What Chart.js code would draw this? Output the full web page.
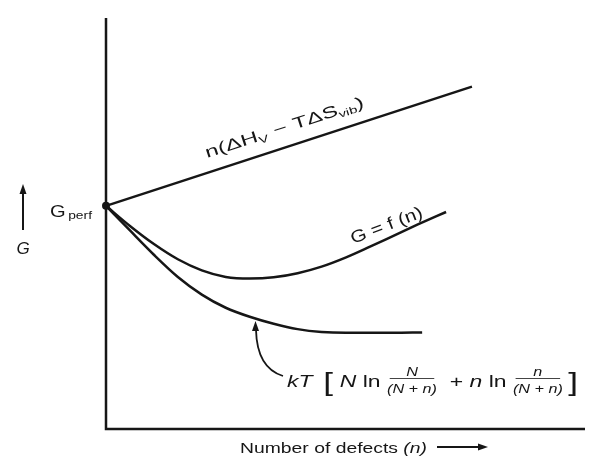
<!DOCTYPE html>
<html>
<head>
<meta charset="utf-8">
<script src="https://cdn.jsdelivr.net/npm/chart.js@4.4.1/dist/chart.umd.min.js"></script>
<style>
  html, body { margin: 0; padding: 0; background: #fff; }
  #wrap { width: 589px; height: 464px; }
</style>
</head>
<body>
<div id="wrap"><canvas id="freeEnergy"></canvas></div>
<script>
const ink = "#161616";

// enthalpy / vibrational entropy term, straight line from G_perf
const nLinear = [0, 76.4];
const gLinear = [54.3, 83.3];

// total free energy G = f(n)
const nTotal = [0, 5, 10, 15, 20, 25, 30, 35, 40, 45, 50, 55, 60, 65, 71];
const gTotal = [54.3, 49.4, 45.0, 41.3, 38.6, 37.0, 36.6, 36.9, 37.9, 39.5, 41.7, 44.3, 47.0, 49.7, 52.8];

// configurational entropy term kT[...]
const nMixing = [0, 5, 10, 15, 20, 25, 30, 35, 40, 45, 50, 55, 60, 66];
const gMixing = [54.3, 48.3, 42.4, 37.0, 32.7, 29.5, 27.3, 25.6, 24.3, 23.6, 23.4, 23.4, 23.4, 23.5];

const toPoints = (xs, ys) => xs.map((x, i) => ({ x: x, y: ys[i] }));

function font(size, italic) {
  return (italic ? "italic " : "") + size + "px 'Liberation Sans', Arial, sans-serif";
}

function itemWidth(ctx, it) {
  if (it.gap) return it.gap;
  if (it.num) {
    ctx.font = font(it.size, true);
    return Math.max(ctx.measureText(it.num).width, ctx.measureText(it.den).width);
  }
  ctx.font = font(it.size, it.italic);
  return ctx.measureText(it.text).width;
}

// draws a run of text pieces from (x, y) along the baseline, squeezed to width
function drawRun(ctx, items, x, y, width, angle) {
  const natural = items.reduce((s, it) => s + itemWidth(ctx, it), 0);
  ctx.save();
  ctx.translate(x, y);
  if (angle) ctx.rotate(angle * Math.PI / 180);
  if (width) ctx.scale(width / natural, 1);
  ctx.fillStyle = ink;
  ctx.textBaseline = "alphabetic";
  let cx = 0;
  items.forEach(it => {
    const w = itemWidth(ctx, it);
    if (it.num) {
      ctx.font = font(it.size, true);
      ctx.textAlign = "center";
      ctx.fillText(it.num, cx + w / 2, -11);
      ctx.fillText(it.den, cx + w / 2, 6);
      ctx.fillRect(cx + 2, -9, w - 4, 0.8);
      ctx.textAlign = "left";
    } else if (it.text) {
      ctx.font = font(it.size, it.italic);
      ctx.fillText(it.text, cx, it.dy || 0);
    }
    cx += w;
  });
  ctx.restore();
}

function arrowHead(ctx, x, y, dir) {
  ctx.save();
  ctx.translate(x, y);
  ctx.rotate(dir);
  ctx.beginPath();
  ctx.moveTo(0, 0);
  ctx.lineTo(-10, -3.5);
  ctx.lineTo(-10, 3.5);
  ctx.closePath();
  ctx.fill();
  ctx.restore();
}

const sketchLabels = {
  id: "sketchLabels",
  afterDraw(chart) {
    const ctx = chart.ctx;
    const a = chart.chartArea;
    ctx.save();
    ctx.strokeStyle = ink;
    ctx.fillStyle = ink;
    ctx.lineCap = "butt";

    // axes
    ctx.lineWidth = 2.5;
    ctx.beginPath();
    ctx.moveTo(a.left, a.top);
    ctx.lineTo(a.left, a.bottom);
    ctx.lineTo(a.right, a.bottom);
    ctx.stroke();

    // G with upward arrow
    ctx.lineWidth = 2;
    ctx.beginPath();
    ctx.moveTo(23, 230);
    ctx.lineTo(23, 192);
    ctx.stroke();
    arrowHead(ctx, 23, 184, -Math.PI / 2);
    ctx.font = font(17, true);
    ctx.textAlign = "center";
    ctx.fillText("G", 23, 254);
    ctx.textAlign = "left";

    drawRun(ctx, [
      { text: "G", size: 16 },
      { gap: 2 },
      { text: "perf", size: 11, dy: 2 }
    ], 50, 217, 42);

    drawRun(ctx, [
      { text: "n", size: 16 },
      { text: "(ΔH", size: 16 },
      { text: "V", size: 10, dy: 3 },
      { text: " − TΔS", size: 16 },
      { text: "vib", size: 10, dy: 3 },
      { text: ")", size: 16 }
    ], 207, 158, 166, -18);

    drawRun(ctx, [
      { text: "G = f (n)", size: 17 }
    ], 353, 244, 76, -21);

    // kT[...] label with its pointer
    drawRun(ctx, [
      { text: "kT", size: 17, italic: true },
      { gap: 8 },
      { text: "[", size: 26, dy: 4 },
      { gap: 5 },
      { text: "N", size: 17, italic: true },
      { text: " ln ", size: 17 },
      { num: "N", den: "(N + n)", size: 12 },
      { text: "  + ", size: 17 },
      { text: "n", size: 17, italic: true },
      { text: " ln ", size: 17 },
      { num: "n", den: "(N + n)", size: 12 },
      { gap: 4 },
      { text: "]", size: 26, dy: 4 }
    ], 287, 387, 291);

    ctx.lineWidth = 1.8;
    ctx.beginPath();
    ctx.moveTo(283, 376);
    ctx.quadraticCurveTo(257, 368, 256, 330);
    ctx.stroke();
    arrowHead(ctx, 255.5, 321, -Math.PI / 2);

    // x-axis title
    drawRun(ctx, [
      { text: "Number of defects ", size: 15 },
      { text: "(n)", size: 15, italic: true }
    ], 240, 453, 187);
    ctx.lineWidth = 1.8;
    ctx.beginPath();
    ctx.moveTo(437, 447);
    ctx.lineTo(480, 447);
    ctx.stroke();
    arrowHead(ctx, 488, 447, 0);

    ctx.restore();
  }
};

const lineStyle = {
  borderColor: ink,
  borderWidth: 2.5,
  pointRadius: 0,
  fill: false,
  clip: false,
  cubicInterpolationMode: "monotone"
};

new Chart(document.getElementById("freeEnergy"), {
  type: "scatter",
  data: {
    datasets: [
      Object.assign({}, lineStyle, {
        label: "n(ΔHv − TΔSvib)",
        data: toPoints(nLinear, gLinear),
        showLine: true,
        pointRadius: [4, 0],
        pointBackgroundColor: ink,
        pointBorderWidth: 0
      }),
      Object.assign({}, lineStyle, {
        label: "G = f(n)",
        data: toPoints(nTotal, gTotal),
        showLine: true
      }),
      Object.assign({}, lineStyle, {
        label: "kT[...]",
        data: toPoints(nMixing, gMixing),
        showLine: true
      })
    ]
  },
  options: {
    responsive: true,
    maintainAspectRatio: false,
    animation: false,
    layout: { padding: { left: 106, top: 18, right: 0, bottom: 35 } },
    plugins: {
      legend: { display: false },
      tooltip: { enabled: false }
    },
    scales: {
      x: { type: "linear", display: false, min: 0, max: 100 },
      y: { type: "linear", display: false, min: 0, max: 100 }
    }
  },
  plugins: [sketchLabels]
});
</script>
</body>
</html>
